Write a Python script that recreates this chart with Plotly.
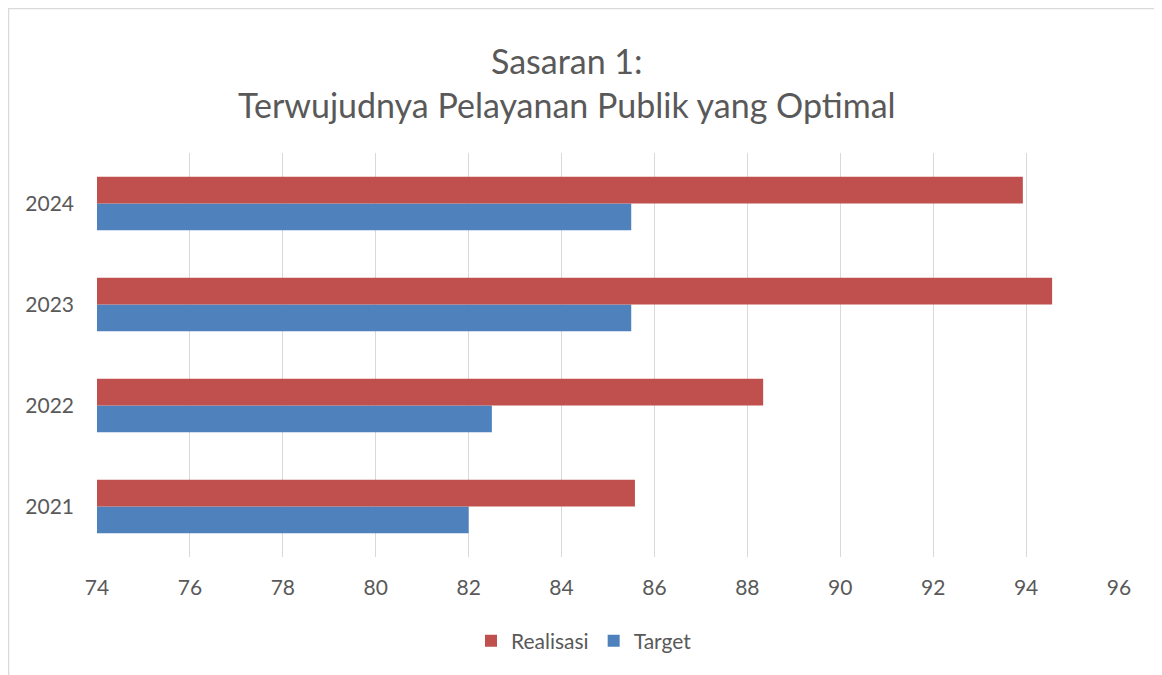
import plotly.graph_objects as go

years = ["2021", "2022", "2023", "2024"]
realisasi = [85.58, 88.34, 94.56, 93.93]
target = [82.0, 82.5, 85.5, 85.5]
x_ticks = [74, 76, 78, 80, 82, 84, 86, 88, 90, 92, 94, 96]

RED = "#C0504D"
BLUE = "#4F81BD"
TXT = "#595959"
FONT = "Lato, Open Sans, sans-serif"

fig = go.Figure()
fig.add_trace(go.Bar(y=years, x=target, name="Target", orientation="h",
                     marker=dict(color=BLUE, line=dict(width=0)), base=0))
fig.add_trace(go.Bar(y=years, x=realisasi, name="Realisasi", orientation="h",
                     marker=dict(color=RED, line=dict(width=0)), base=0))

# page renders figure offset by 8px (body margin)
OX, OY = 8, 8
W, H = 1162, 675
L = 97 - OX
T = 153 - OY
R = W - (1119 - OX)
B = H - (557 - OY)
pw, ph = W - L - R, H - T - B


def px(x):
    return (x - OX - L) / pw


def py(y):
    return (T + ph - (y - OY)) / ph


fig.update_layout(
    width=W, height=H,
    margin=dict(l=L, r=R, t=T, b=B, autoexpand=False),
    paper_bgcolor="white", plot_bgcolor="white",
    barmode="group", bargap=0.47, bargroupgap=0,
    font=dict(family=FONT, color=TXT, size=21),
    showlegend=True,
    legend=dict(orientation="h", x=px(584), xanchor="center",
                y=py(641), yanchor="middle",
                traceorder="reversed", font=dict(size=21, color=TXT),
                itemwidth=30, itemsizing="constant"),
    xaxis=dict(range=[74, 96], tickvals=x_ticks, showgrid=True,
               gridcolor="#D9D9D9", gridwidth=1, zeroline=False,
               showline=False, ticks="", tickfont=dict(size=21, color=TXT),
               ticklabelstandoff=16),
    yaxis=dict(type="category", categoryorder="array", categoryarray=years,
               showgrid=False, zeroline=False, showline=False, ticks="",
               tickfont=dict(size=21, color=TXT), ticklabelstandoff=22),
    annotations=[dict(text="Sasaran 1:<br>Terwujudnya Pelayanan Publik yang Optimal",
                      xref="paper", yref="paper", x=px(567),
                      y=py(82), xanchor="center", yanchor="middle",
                      showarrow=False, align="center",
                      font=dict(size=34, color=TXT, family=FONT))],
    shapes=[dict(type="rect", xref="paper", yref="paper",
                 x0=px(8.5), x1=px(1159),
                 y0=py(676), y1=py(8.5),
                 line=dict(color="#D9D9D9", width=1.5), fillcolor="rgba(0,0,0,0)",
                 layer="below")],
)

fig.write_html("out.html")
